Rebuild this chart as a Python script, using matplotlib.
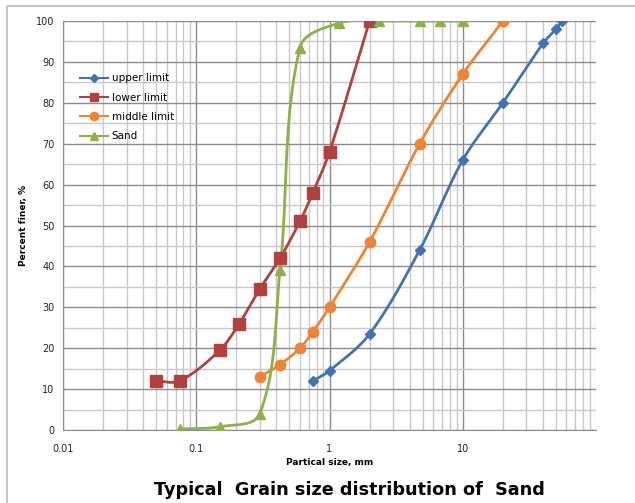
import numpy as np
import matplotlib
matplotlib.use("Agg")
import matplotlib.pyplot as plt
from matplotlib.patches import Rectangle
from matplotlib.lines import Line2D
from matplotlib.ticker import FixedLocator, NullFormatter, FixedFormatter

# sieve sizes (mm) and percent finer
upper_x = [0.75, 1.0, 2.0, 4.75, 10, 20, 40, 50, 56]
upper_y = [12, 14.5, 23.5, 44, 66, 80, 94.5, 98, 100]

lower_x = [0.05, 0.075, 0.15, 0.21, 0.3, 0.425, 0.6, 0.75, 1.0, 2.0]
lower_y = [12, 12, 19.5, 26, 34.5, 42, 51, 58, 68, 100]

middle_x = [0.3, 0.425, 0.6, 0.75, 1.0, 2.0, 4.75, 10, 20]
middle_y = [13, 16, 20, 24, 30, 46, 70, 87, 100]

sand_x = [0.075, 0.15, 0.3, 0.425, 0.6, 1.18, 2.36, 4.75, 6.7, 10]
sand_y = [0.2, 0.8, 4, 39, 93.5, 99.5, 100, 100, 100, 100]


def smooth(xs, ys, n=40):
    # bezier smoothing in screen-like units (log x scaled to match % on y)
    pts = np.column_stack([np.log10(xs) * 32.5, np.array(ys, dtype=float)])
    m = len(pts)
    tang = []
    for i in range(m):
        a = pts[max(i - 1, 0)]
        b = pts[min(i + 1, m - 1)]
        d = b - a
        tang.append(d / (np.hypot(*d) + 1e-9))
    out = []
    for i in range(m - 1):
        p1, p2 = pts[i], pts[i + 1]
        L = np.hypot(*(p2 - p1))
        c1 = p1 + tang[i] * L / 3
        c2 = p2 - tang[i + 1] * L / 3
        t = np.linspace(0, 1, n)[:, None]
        seg = ((1 - t) ** 3) * p1 + 3 * ((1 - t) ** 2) * t * c1 + 3 * (1 - t) * t ** 2 * c2 + t ** 3 * p2
        out.append(seg)
    out = np.vstack(out)
    return 10 ** (out[:, 0] / 32.5), out[:, 1]


fig = plt.figure(figsize=(6.35, 5.03), dpi=100)
ax = fig.add_axes([63 / 635, 1 - 430 / 503, (596 - 63) / 635, (430 - 21) / 503])

series = [
    ("upper limit", upper_x, upper_y, "#4272B4", "D", 5.5),
    ("lower limit", lower_x, lower_y, "#B0413E", "s", 8),
    ("middle limit", middle_x, middle_y, "#EE8434", "o", 7.5),
    ("Sand", sand_x, sand_y, "#8DB04A", "^", 7.5),
]

handles = []
for name, xs, ys, col, mk, ms in series:
    sx, sy = smooth(xs, ys)
    ax.plot(sx, sy, color=col, lw=2.0, zorder=3)
    ax.plot(xs, ys, ls="none", marker=mk, color=col, ms=ms, mec=col, zorder=4)
    handles.append(Line2D([], [], color=col, lw=1.5, marker=mk, ms=ms * 0.8, mec=col))

ax.set_xscale("log")
ax.set_xlim(0.01, 100)
ax.set_ylim(0, 100)

ax.xaxis.set_major_locator(FixedLocator([0.01, 0.1, 1, 10]))
ax.xaxis.set_major_formatter(FixedFormatter(["0.01", "0.1", "1", "10"]))
minors = [m * 10.0 ** e for e in range(-2, 2) for m in range(2, 10)]
ax.xaxis.set_minor_locator(FixedLocator(minors))
ax.xaxis.set_minor_formatter(NullFormatter())
ax.set_yticks(range(0, 101, 10))
ax.set_yticks(range(5, 100, 10), minor=True)

ax.grid(which="major", color="#8c8c8c", lw=1.0, zorder=0)
ax.grid(which="minor", color="#c8c8c8", lw=1.0, zorder=0)
ax.axvline(100, color="#c8c8c8", lw=1.0, zorder=0)
ax.set_axisbelow(True)

for s in ["top", "right"]:
    ax.spines[s].set_visible(False)
ax.spines["left"].set_color("#8c8c8c")
ax.spines["bottom"].set_color("#8c8c8c")
ax.tick_params(which="both", length=0, labelsize=7, colors="#222222", pad=6)
ax.tick_params(axis="x", pad=10)

ax.set_xlabel("Partical size, mm", fontsize=6.5, fontweight="bold", labelpad=3)
ax.set_ylabel("Percent finer, %", fontsize=6.5, fontweight="bold", labelpad=6)

ax.legend(handles, [s[0] for s in series], loc="upper left", bbox_to_anchor=(0.015, 0.895),
          frameon=False, fontsize=7.5, handlelength=2.7, labelspacing=0.9, handletextpad=0.3)

fig.text(0.55, 0.015, "Typical  Grain size distribution of  Sand", ha="center", va="baseline",
         fontsize=12.7, fontweight="bold", family="DejaVu Sans")

fig.patches.append(Rectangle((7 / 635, -0.05), 1.2, 1 - 6 / 503 + 0.05, transform=fig.transFigure,
                             fill=False, ec="#bbbbbb", lw=1.2))

fig.savefig("out.png", dpi=100)
